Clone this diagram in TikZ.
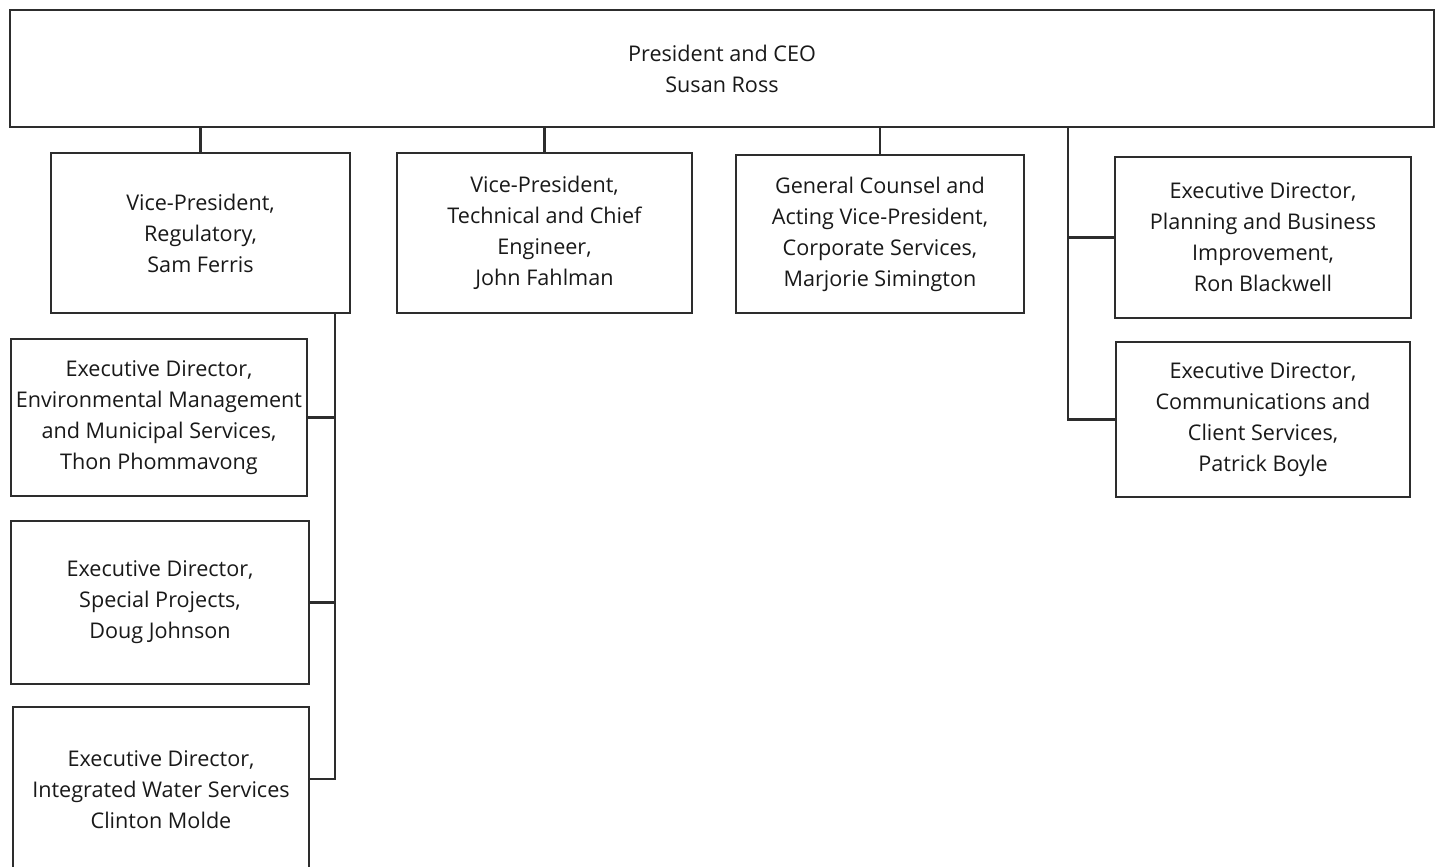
\documentclass[tikz,border=0pt]{standalone}
\usepackage{fontspec}
\setmainfont{Open Sans}
\usetikzlibrary{positioning}
\definecolor{orgline}{RGB}{45,45,45}
\definecolor{orgtext}{RGB}{25,25,25}

\begin{document}
\begin{tikzpicture}[x=0.5pt, y=-0.5pt,
                orgbox/.style={draw=orgline, line width=1.1pt, fill=white,
                    align=center, inner sep=0pt, text=orgtext,
                    font=\fontsize{10.8}{15.5}\selectfont},
                link/.style={draw=orgline, line width=1.1pt}
            ]
            \useasboundingbox (0,0) rectangle (1441,867);
            \clip (0,0) rectangle (1441,867);

            % President
            \node[orgbox, minimum width=712pt, minimum height=58.5pt] (ceo) at (722, 68.5)
                {President and CEO\\ Susan Ross};

            % Vice-presidents
            \node[orgbox, minimum width=149.5pt, minimum height=80pt] (vpreg) at (200.5, 233)
                {Vice-President,\\ Regulatory,\\ Sam Ferris};
            \node[orgbox, minimum width=147.5pt, minimum height=80pt] (vptech) at (544.5, 233)
                {Vice-President,\\ Technical and Chief\\ Engineer,\\ John Fahlman};
            \node[orgbox, minimum width=144pt, minimum height=79pt] (counsel) at (880, 234)
                {General Counsel and\\ Acting Vice-President,\\ Corporate Services,\\ Marjorie Simington};

            % Executive directors, right
            \node[orgbox, minimum width=148pt, minimum height=80.5pt] (planning) at (1263, 237.5)
                {Executive Director,\\ Planning and Business\\ Improvement,\\ Ron Blackwell};
            \node[orgbox, minimum width=147pt, minimum height=77.5pt] (comms) at (1263, 419.5)
                {Executive Director,\\ Communications and\\ Client Services,\\ Patrick Boyle};

            % Executive directors, under Regulatory
            \node[orgbox, minimum width=148pt, minimum height=78.5pt] (envmgmt) at (159, 417.5)
                {Executive Director,\\ Environmental Management\\ and Municipal Services,\\ Thon Phommavong};
            \node[orgbox, minimum width=149pt, minimum height=81.5pt] (special) at (160, 602.5)
                {Executive Director,\\ Special Projects,\\ Doug Johnson};
            \node[orgbox, minimum width=148pt, minimum height=83pt] (water) at (161, 790)
                {Executive Director,\\ Integrated Water Services\\ Clinton Molde};

            % Connectors
            \coordinate (rjoin) at (1068, 0);
            \coordinate (ljoin) at (335, 0);
            \draw[link] (ceo.south -| vpreg) -- (vpreg.north);
            \draw[link] (ceo.south -| vptech) -- (vptech.north);
            \draw[link] (ceo.south -| counsel) -- (counsel.north);
            \draw[link] (ceo.south -| rjoin) |- (comms.west);
            \draw[link] (planning.west) -- (planning.west -| rjoin);
            \draw[link] (vpreg.south -| ljoin) |- ([yshift=5.5pt]water.east);
            \draw[link] (envmgmt.east) -- (envmgmt.east -| ljoin);
            \draw[link] (special.east) -- (special.east -| ljoin);

\end{tikzpicture}
\end{document}
